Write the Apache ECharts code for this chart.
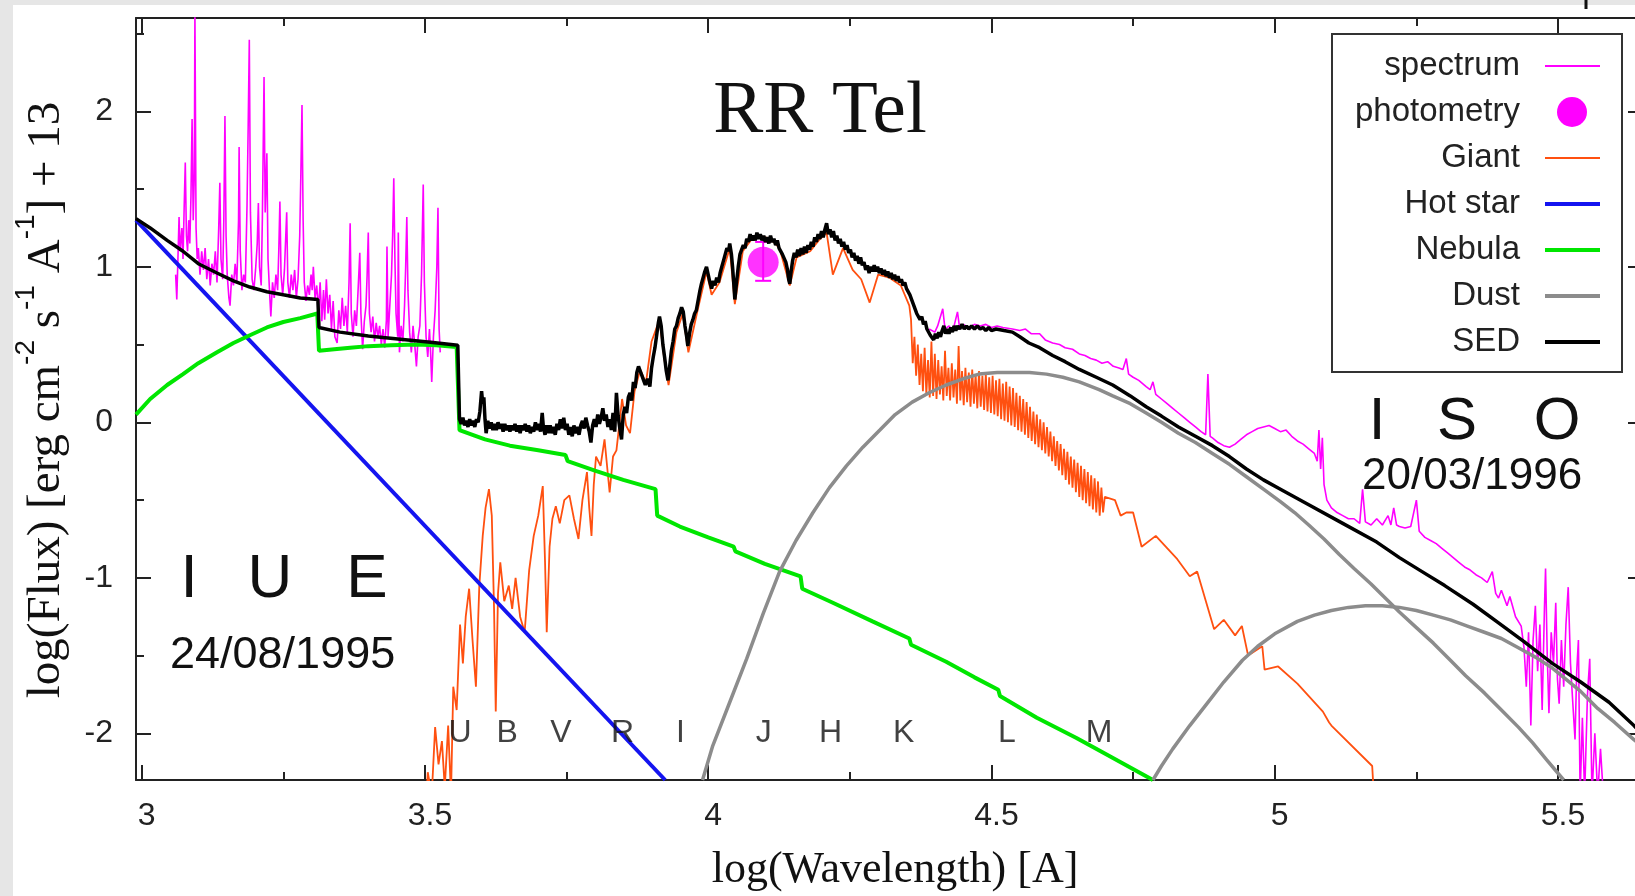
<!DOCTYPE html>
<html>
<head>
<meta charset="utf-8">
<title>RR Tel</title>
<script src="https://cdn.jsdelivr.net/npm/echarts@6.0.0/dist/echarts.min.js"></script>
<style>
  html, body { margin: 0; padding: 0; background: #fff; }
  #main { width: 1635px; height: 896px; }
</style>
</head>
<body>
<div id="main"></div>
<script>
// log(wavelength), log(flux)+13
var iueSpectrum = [
  [3.060,0.95],[3.062,0.79],[3.064,1.05],[3.066,1.32],[3.068,1.10],[3.071,1.25],[3.073,1.05],[3.075,1.38],
  [3.077,1.67],[3.079,1.20],[3.081,1.10],[3.083,1.30],[3.085,1.15],[3.087,1.45],[3.089,1.95],[3.091,1.30],
  [3.093,1.60],[3.094,2.65],[3.096,1.25],[3.098,1.05],[3.100,1.12],[3.103,0.95],[3.106,1.10],[3.109,0.98],
  [3.112,1.12],[3.115,0.92],[3.118,1.05],[3.121,0.88],[3.124,1.02],[3.127,0.95],[3.130,1.10],[3.133,0.90],
  [3.136,1.25],[3.138,1.54],[3.140,1.05],[3.143,0.92],[3.145,1.30],[3.147,1.97],[3.149,1.20],[3.151,0.95],
  [3.154,0.80],[3.156,0.75],[3.159,0.95],[3.162,0.88],[3.165,1.02],[3.168,0.90],[3.171,1.30],[3.172,1.77],
  [3.174,1.10],[3.177,0.85],[3.180,0.95],[3.183,0.90],[3.186,1.40],[3.188,1.90],[3.190,2.46],[3.192,1.35],
  [3.195,0.92],[3.198,0.85],[3.201,0.98],[3.204,1.15],[3.206,1.41],[3.208,1.00],[3.211,0.88],[3.213,1.30],
  [3.216,2.22],[3.218,1.35],[3.221,1.73],[3.223,1.05],[3.226,0.82],[3.228,0.68],[3.231,0.90],[3.234,0.80],
  [3.237,0.95],[3.240,0.85],[3.242,1.10],[3.244,1.42],[3.246,0.95],[3.249,0.82],[3.252,0.98],[3.256,1.35],
  [3.258,0.90],[3.261,0.80],[3.264,0.95],[3.267,0.85],[3.270,0.98],[3.273,0.80],[3.276,0.92],[3.279,1.20],
  [3.281,1.60],[3.283,2.04],[3.285,1.30],[3.287,0.90],[3.290,0.78],[3.293,0.88],[3.296,0.82],[3.299,0.95],
  [3.301,0.85],[3.303,1.00],[3.306,0.80],[3.309,0.88],[3.312,0.72],[3.315,0.90],[3.318,0.65],[3.321,0.85],
  [3.323,0.66],[3.326,0.92],[3.329,0.70],[3.332,0.82],[3.335,0.60],[3.338,0.78],[3.341,0.55],[3.345,0.51],
  [3.348,0.72],[3.351,0.60],[3.354,0.80],[3.357,0.62],[3.360,0.75],[3.363,0.58],[3.366,0.90],[3.368,1.28],
  [3.370,0.70],[3.373,0.55],[3.376,0.72],[3.379,0.62],[3.382,0.85],[3.385,1.09],[3.387,0.70],[3.390,0.47],
  [3.393,0.65],[3.396,0.75],[3.398,0.95],[3.400,1.22],[3.402,0.70],[3.405,0.58],[3.408,0.68],[3.411,0.52],
  [3.414,0.64],[3.417,0.55],[3.420,0.62],[3.423,0.50],[3.426,0.60],[3.429,0.48],[3.432,0.66],[3.433,1.13],
  [3.435,0.55],[3.438,0.75],[3.441,0.95],[3.443,1.20],[3.445,1.57],[3.447,1.05],[3.449,0.70],[3.452,0.55],
  [3.453,1.22],[3.455,0.45],[3.458,0.62],[3.461,0.52],[3.464,0.75],[3.466,1.00],[3.468,1.32],[3.470,0.85],
  [3.473,0.58],[3.476,0.45],[3.479,0.62],[3.482,0.50],[3.485,0.36],[3.488,0.55],[3.491,0.62],[3.494,0.95],
  [3.497,1.53],[3.499,0.90],[3.502,0.55],[3.505,0.42],[3.508,0.60],[3.510,0.45],[3.512,0.26],[3.515,0.55],
  [3.518,0.72],[3.521,1.00],[3.523,1.38],[3.525,0.60],[3.527,0.45]
];

var isoSpectrum = [
  [4.390,0.60],[4.400,0.58],[4.405,0.62],[4.414,0.73],[4.418,0.60],[4.425,0.62],[4.432,0.59],[4.440,0.71],
  [4.444,0.60],[4.450,0.63],[4.460,0.61],[4.470,0.63],[4.480,0.62],[4.490,0.63],[4.500,0.61],[4.510,0.62],
  [4.520,0.61],[4.537,0.60],[4.550,0.59],[4.560,0.60],[4.570,0.57],[4.585,0.57],[4.595,0.53],[4.608,0.51],
  [4.620,0.50],[4.630,0.48],[4.643,0.47],[4.655,0.44],[4.665,0.43],[4.675,0.41],[4.685,0.40],[4.695,0.38],
  [4.705,0.39],[4.715,0.36],[4.725,0.35],[4.732,0.34],[4.738,0.41],[4.742,0.31],[4.750,0.29],[4.760,0.27],
  [4.773,0.23],[4.780,0.21],[4.785,0.26],[4.790,0.18],[4.800,0.15],[4.810,0.12],[4.820,0.09],[4.830,0.06],
  [4.840,0.03],[4.850,0.00],[4.860,-0.03],[4.870,-0.06],[4.878,-0.08],[4.882,0.31],[4.886,-0.09],[4.890,-0.10],
  [4.900,-0.13],[4.910,-0.15],[4.920,-0.16],[4.930,-0.14],[4.940,-0.11],[4.950,-0.08],[4.960,-0.06],[4.970,-0.04],
  [4.980,-0.03],[4.990,-0.02],[5.000,-0.04],[5.010,-0.06],[5.020,-0.05],[5.030,-0.09],[5.040,-0.12],[5.050,-0.14],
  [5.060,-0.17],[5.070,-0.20],[5.075,-0.25],[5.078,-0.05],[5.081,-0.30],[5.084,-0.10],[5.087,-0.40],[5.092,-0.50],
  [5.100,-0.55],[5.110,-0.58],[5.120,-0.60],[5.130,-0.62],[5.140,-0.62],[5.150,-0.65],[5.155,-0.43],[5.160,-0.64],
  [5.170,-0.66],[5.180,-0.62],[5.190,-0.66],[5.200,-0.60],[5.205,-0.66],[5.210,-0.55],[5.215,-0.66],[5.220,-0.67],
  [5.230,-0.68],[5.240,-0.67],[5.250,-0.50],[5.255,-0.70],[5.265,-0.74],[5.275,-0.76],[5.285,-0.78],[5.295,-0.81],
  [5.305,-0.84],[5.315,-0.87],[5.325,-0.90],[5.335,-0.93],[5.345,-0.95],[5.355,-0.98],[5.365,-1.00],[5.375,-1.03],
  [5.384,-0.96],[5.390,-1.10],[5.395,-1.13],[5.400,-1.08],[5.410,-1.18],[5.415,-1.12],[5.425,-1.25],[5.435,-1.31],
  [5.440,-1.45],[5.444,-1.70],[5.448,-1.35],[5.452,-1.95],[5.456,-1.40],[5.460,-1.18],[5.464,-1.60],[5.468,-1.30],
  [5.472,-1.85],[5.476,-1.20],[5.478,-0.94],[5.481,-1.50],[5.484,-1.87],[5.488,-1.35],[5.492,-1.55],[5.496,-1.16],
  [5.499,-1.65],[5.502,-1.81],[5.506,-1.40],[5.510,-1.70],[5.514,-1.30],[5.518,-1.06],[5.522,-1.55],[5.526,-1.80],
  [5.530,-2.04],[5.533,-1.60],[5.536,-1.40],[5.539,-2.40],[5.543,-1.90],[5.547,-2.40],[5.552,-1.75],[5.556,-1.52],
  [5.560,-2.40],[5.565,-2.00],[5.570,-2.40],[5.575,-2.10],[5.580,-2.40]
];

var photometry = [[4.097, 1.03]];
var photometryErr = [[4.097, 0.91, 1.16]];

var giant = [
  [3.500,-2.60],[3.505,-2.25],[3.512,-2.40],[3.518,-1.96],[3.524,-2.20],[3.530,-2.05],[3.535,-2.35],[3.541,-1.95],
  [3.546,-2.40],[3.550,-1.70],[3.556,-1.85],[3.562,-1.30],[3.567,-1.55],[3.572,-1.25],[3.578,-1.07],[3.584,-1.40],
  [3.590,-1.70],[3.596,-1.05],[3.602,-0.73],[3.607,-0.55],[3.613,-0.43],[3.618,-0.60],[3.622,-1.20],[3.625,-1.86],
  [3.629,-1.10],[3.633,-0.90],[3.640,-1.15],[3.648,-1.05],[3.654,-1.20],[3.660,-1.00],[3.668,-1.25],[3.676,-1.35],
  [3.684,-0.95],[3.692,-0.73],[3.700,-0.60],[3.708,-0.41],[3.712,-0.90],[3.715,-1.35],[3.720,-0.80],[3.725,-0.62],
  [3.731,-0.54],[3.738,-0.65],[3.746,-0.50],[3.755,-0.47],[3.763,-0.62],[3.771,-0.75],[3.778,-0.50],[3.786,-0.32],
  [3.790,-0.55],[3.794,-0.73],[3.798,-0.40],[3.802,-0.22],[3.810,-0.28],[3.817,-0.11],[3.822,-0.30],[3.826,-0.45],
  [3.832,-0.22],[3.838,-0.18],[3.842,-0.05],[3.848,0.15],[3.855,-0.02],[3.862,-0.07],[3.870,0.20],[3.880,0.34],
  [3.890,0.25],[3.900,0.52],[3.914,0.66],[3.922,0.42],[3.930,0.24],[3.944,0.58],[3.955,0.70],[3.965,0.45],
  [3.980,0.70],[3.997,0.97],[4.006,0.82],[4.020,0.90],[4.038,1.12],[4.047,0.76],[4.061,1.10],[4.075,1.17],
  [4.090,1.20],[4.110,1.18],[4.126,1.12],[4.144,0.88],[4.156,1.06],[4.180,1.10],[4.195,1.17],[4.209,1.22],
  [4.220,0.95],[4.238,1.12],[4.255,0.98],[4.270,0.92],[4.285,0.77],[4.300,0.95],[4.320,0.93],[4.340,0.88],
  [4.355,0.75],[4.358,0.66],[4.361,0.38],[4.364,0.55],[4.367,0.30],[4.370,0.50],[4.373,0.24],[4.376,0.44],
  [4.379,0.20],[4.382,0.48],[4.385,0.18],[4.388,0.40],[4.391,0.16],[4.394,0.52],[4.397,0.17],[4.400,0.44],
  [4.403,0.15],[4.406,0.40],[4.409,0.18],[4.412,0.36],[4.415,0.14],[4.418,0.46],[4.421,0.17],[4.424,0.35],
  [4.427,0.14],[4.430,0.38],[4.433,0.16],[4.436,0.34],[4.439,0.12],[4.442,0.49],[4.445,0.14],[4.448,0.33],
  [4.451,0.11],[4.454,0.35],[4.457,0.13],[4.460,0.32],[4.463,0.10],[4.466,0.34],[4.469,0.12],[4.472,0.31],
  [4.475,0.09],[4.478,0.33],[4.481,0.10],[4.484,0.30],[4.487,0.08],[4.490,0.31],[4.493,0.07],[4.496,0.29],
  [4.499,0.06],[4.502,0.30],[4.505,0.05],[4.508,0.27],[4.511,0.04],[4.514,0.28],[4.517,0.02],[4.520,0.25],
  [4.523,0.01],[4.526,0.26],[4.529,0.00],[4.532,0.23],[4.535,-0.02],[4.538,0.22],[4.541,-0.03],[4.544,0.19],
  [4.547,-0.05],[4.550,0.17],[4.553,-0.06],[4.556,0.15],[4.559,-0.08],[4.562,0.13],[4.565,-0.10],[4.568,0.10],
  [4.571,-0.12],[4.574,0.07],[4.577,-0.14],[4.580,0.05],[4.583,-0.16],[4.586,0.02],[4.589,-0.18],[4.592,0.00],
  [4.595,-0.20],[4.598,-0.03],[4.601,-0.22],[4.604,-0.06],[4.607,-0.25],[4.610,-0.09],[4.613,-0.28],[4.616,-0.12],
  [4.619,-0.31],[4.622,-0.14],[4.625,-0.34],[4.628,-0.17],[4.631,-0.37],[4.634,-0.19],[4.637,-0.40],[4.640,-0.22],
  [4.643,-0.42],[4.646,-0.24],[4.649,-0.45],[4.652,-0.26],[4.655,-0.48],[4.658,-0.28],[4.661,-0.50],[4.664,-0.30],
  [4.667,-0.52],[4.670,-0.32],[4.673,-0.54],[4.676,-0.34],[4.679,-0.56],[4.682,-0.36],[4.685,-0.58],[4.688,-0.38],
  [4.691,-0.60],[4.694,-0.42],[4.697,-0.58],[4.700,-0.48],[4.718,-0.50],[4.728,-0.60],[4.738,-0.58],[4.750,-0.58],
  [4.765,-0.80],[4.790,-0.73],[4.828,-0.88],[4.850,-0.99],[4.863,-0.96],[4.893,-1.33],[4.910,-1.27],[4.930,-1.37],
  [4.942,-1.31],[4.953,-1.50],[4.978,-1.44],[4.982,-1.59],[5.006,-1.57],[5.040,-1.68],[5.085,-1.86],[5.096,-1.93],
  [5.100,-1.95],[5.172,-2.21],[5.175,-2.40]
];

var hotStar = [[2.99,1.30],[3.924,-2.30]];

var nebula = [
  [2.990,0.05],[3.015,0.15],[3.045,0.24],[3.073,0.31],[3.100,0.38],[3.133,0.45],[3.162,0.51],[3.191,0.56],
  [3.221,0.61],[3.250,0.645],[3.280,0.67],[3.310,0.70],[3.313,0.46],[3.340,0.47],[3.368,0.48],[3.400,0.49],
  [3.440,0.495],[3.485,0.50],[3.520,0.495],[3.556,0.485],[3.561,-0.05],[3.606,-0.11],[3.650,-0.15],[3.700,-0.18],
  [3.748,-0.21],[3.752,-0.25],[3.800,-0.31],[3.850,-0.37],[3.907,-0.43],[3.910,-0.60],[3.950,-0.67],[4.000,-0.74],
  [4.045,-0.80],[4.048,-0.83],[4.100,-0.91],[4.163,-0.99],[4.166,-1.07],[4.220,-1.16],[4.290,-1.28],[4.355,-1.39],
  [4.358,-1.43],[4.420,-1.54],[4.470,-1.64],[4.512,-1.72],[4.515,-1.76],[4.580,-1.90],[4.650,-2.03],[4.700,-2.13],
  [4.785,-2.30]
];

var dustWarm = [
  [3.990,-2.30],[4.008,-2.08],[4.038,-1.80],[4.068,-1.52],[4.097,-1.23],[4.126,-0.96],[4.155,-0.76],[4.185,-0.58],
  [4.214,-0.42],[4.244,-0.28],[4.273,-0.16],[4.303,-0.05],[4.330,0.05],[4.360,0.13],[4.390,0.19],[4.420,0.24],
  [4.450,0.28],[4.478,0.31],[4.510,0.32],[4.537,0.32],[4.567,0.32],[4.597,0.31],[4.626,0.29],[4.655,0.26],
  [4.690,0.21],[4.714,0.17],[4.745,0.12],[4.773,0.06],[4.800,0.00],[4.830,-0.07],[4.860,-0.13],[4.890,-0.20],
  [4.920,-0.27],[4.950,-0.35],[4.980,-0.43],[5.010,-0.51],[5.035,-0.58],[5.060,-0.66],[5.087,-0.75],[5.114,-0.85],
  [5.140,-0.94],[5.170,-1.04],[5.195,-1.13],[5.220,-1.22],[5.250,-1.32],[5.280,-1.42],[5.310,-1.53],[5.337,-1.63],
  [5.370,-1.74],[5.400,-1.85],[5.430,-1.96],[5.455,-2.06],[5.480,-2.17],[5.510,-2.30]
];

var dustCool = [
  [4.785,-2.30],[4.800,-2.21],[4.820,-2.10],[4.850,-1.95],[4.880,-1.81],[4.910,-1.67],[4.943,-1.53],[4.970,-1.44],
  [5.000,-1.36],[5.040,-1.28],[5.070,-1.24],[5.100,-1.21],[5.130,-1.19],[5.160,-1.18],[5.190,-1.18],[5.220,-1.19],
  [5.250,-1.21],[5.280,-1.24],[5.310,-1.27],[5.340,-1.31],[5.370,-1.35],[5.400,-1.39],[5.430,-1.45],[5.460,-1.51],
  [5.490,-1.58],[5.510,-1.64],[5.540,-1.73],[5.570,-1.84],[5.600,-1.93],[5.634,-2.04],[5.650,-2.09]
];

var sed = [
  [2.990,1.31],[3.015,1.25],[3.045,1.17],[3.073,1.10],[3.100,1.02],[3.133,0.96],[3.162,0.91],[3.191,0.87],
  [3.221,0.84],[3.250,0.82],[3.280,0.80],[3.311,0.79],[3.313,0.61],[3.350,0.58],[3.400,0.555],[3.426,0.545],
  [3.470,0.53],[3.510,0.515],[3.558,0.495],
  [3.561,0.02],[3.564,-0.01],[3.567,0.03],[3.570,-0.02],[3.573,0.01],[3.576,-0.03],[3.579,0.02],[3.582,-0.02],
  [3.585,0.01],[3.588,-0.03],[3.591,0.02],[3.594,0.00],[3.597,0.07],[3.600,0.20],[3.602,0.12],[3.604,0.16],
  [3.606,0.02],[3.608,-0.07],[3.611,0.01],[3.614,-0.04],[3.617,0.00],[3.620,-0.05],[3.623,-0.01],[3.626,-0.05],
  [3.629,0.00],[3.632,-0.04],[3.635,-0.01],[3.638,-0.06],[3.641,-0.01],[3.644,-0.05],[3.647,-0.02],[3.650,-0.06],
  [3.653,-0.02],[3.656,-0.05],[3.659,-0.01],[3.662,-0.06],[3.665,-0.02],[3.668,-0.07],[3.671,-0.02],[3.674,-0.05],
  [3.677,-0.01],[3.680,-0.06],[3.683,-0.02],[3.686,-0.07],[3.689,-0.03],[3.692,-0.06],[3.695,0.00],[3.698,-0.05],
  [3.701,-0.01],[3.704,-0.06],[3.707,0.06],[3.709,-0.03],[3.712,-0.08],[3.715,-0.02],[3.718,-0.07],[3.721,-0.02],
  [3.724,-0.07],[3.727,-0.03],[3.730,-0.08],[3.733,-0.01],[3.736,-0.05],[3.739,0.02],[3.742,-0.04],[3.745,0.03],
  [3.748,-0.05],[3.751,-0.01],[3.754,-0.08],[3.757,-0.03],[3.760,-0.09],[3.763,-0.02],[3.766,-0.07],[3.769,-0.03],
  [3.772,-0.08],[3.775,-0.02],[3.778,0.01],[3.781,-0.04],[3.784,0.03],[3.787,-0.02],[3.790,-0.06],[3.793,-0.13],
  [3.796,-0.02],[3.799,0.02],[3.802,-0.03],[3.805,0.05],[3.808,-0.01],[3.811,0.03],[3.814,0.09],[3.817,0.01],
  [3.820,0.05],[3.823,-0.03],[3.826,0.02],[3.829,-0.05],[3.832,0.06],[3.835,-0.06],[3.838,0.19],[3.841,0.04],
  [3.844,-0.04],[3.847,-0.11],[3.850,0.05],[3.853,0.10],[3.856,0.06],[3.859,0.16],[3.862,0.19],[3.865,0.14],
  [3.868,0.26],[3.871,0.22],[3.874,0.32],[3.877,0.36],[3.880,0.33],[3.883,0.30],[3.886,0.27],[3.889,0.24],
  [3.893,0.28],[3.897,0.23],[3.900,0.35],[3.903,0.42],[3.906,0.48],[3.909,0.56],[3.912,0.64],[3.914,0.68],
  [3.917,0.62],[3.920,0.50],[3.923,0.42],[3.926,0.33],[3.929,0.27],[3.932,0.36],[3.935,0.46],[3.938,0.52],
  [3.941,0.60],[3.944,0.62],[3.947,0.67],[3.950,0.70],[3.953,0.74],[3.956,0.71],[3.959,0.62],[3.962,0.55],
  [3.964,0.49],[3.967,0.57],[3.970,0.63],[3.973,0.66],[3.976,0.70],[3.979,0.72],[3.982,0.78],[3.985,0.84],
  [3.988,0.89],[3.991,0.93],[3.994,0.97],[3.997,1.00],[4.000,0.95],[4.003,0.90],[4.006,0.86],[4.009,0.91],
  [4.012,0.88],[4.015,0.93],[4.018,0.90],[4.021,0.96],[4.024,1.00],[4.027,1.04],[4.030,1.08],[4.033,1.12],
  [4.036,1.10],[4.038,1.15],[4.041,1.08],[4.043,1.00],[4.045,0.90],[4.047,0.79],[4.050,0.90],[4.053,1.00],
  [4.056,1.08],[4.059,1.11],[4.062,1.14],[4.065,1.12],[4.068,1.18],[4.071,1.16],[4.074,1.21],[4.077,1.17],
  [4.080,1.20],[4.083,1.17],[4.086,1.22],[4.089,1.18],[4.092,1.21],[4.095,1.17],[4.098,1.20],[4.101,1.16],
  [4.104,1.19],[4.107,1.15],[4.110,1.20],[4.113,1.16],[4.116,1.18],[4.119,1.14],[4.122,1.17],[4.125,1.12],
  [4.128,1.13],[4.131,1.08],[4.134,1.09],[4.137,1.03],[4.140,0.98],[4.142,0.92],[4.144,0.89],[4.146,0.96],
  [4.149,1.04],[4.152,1.09],[4.155,1.06],[4.158,1.11],[4.161,1.07],[4.164,1.12],[4.167,1.08],[4.170,1.13],
  [4.173,1.09],[4.176,1.14],[4.179,1.11],[4.182,1.16],[4.185,1.13],[4.188,1.19],[4.191,1.16],[4.194,1.21],
  [4.197,1.18],[4.200,1.23],[4.203,1.19],[4.206,1.24],[4.209,1.28],[4.212,1.21],[4.215,1.24],[4.218,1.19],
  [4.221,1.23],[4.224,1.17],[4.227,1.20],[4.230,1.15],[4.233,1.18],[4.236,1.13],[4.239,1.16],[4.242,1.11],
  [4.245,1.14],[4.248,1.09],[4.251,1.11],[4.254,1.06],[4.257,1.09],[4.260,1.04],[4.263,1.07],[4.266,1.02],
  [4.269,1.06],[4.272,1.01],[4.275,1.03],[4.278,0.98],[4.281,1.01],[4.284,0.96],[4.287,1.00],[4.290,0.97],
  [4.293,1.01],[4.296,0.97],[4.299,1.00],[4.302,0.96],[4.305,0.99],[4.308,0.95],[4.311,0.98],[4.314,0.94],
  [4.317,0.97],[4.320,0.93],[4.323,0.96],[4.326,0.92],[4.329,0.95],[4.332,0.91],[4.335,0.94],[4.338,0.90],
  [4.341,0.92],[4.344,0.88],[4.347,0.90],[4.350,0.86],[4.353,0.87],[4.356,0.82],[4.359,0.82],[4.362,0.76],
  [4.365,0.76],[4.368,0.70],[4.371,0.71],[4.374,0.66],[4.377,0.68],[4.380,0.63],[4.383,0.65],[4.386,0.60],
  [4.389,0.61],[4.392,0.56],[4.395,0.57],[4.398,0.53],[4.401,0.57],[4.404,0.54],[4.407,0.58],[4.410,0.55],
  [4.413,0.59],[4.416,0.62],[4.419,0.57],[4.422,0.60],[4.425,0.57],[4.428,0.61],[4.431,0.58],[4.434,0.62],
  [4.437,0.59],[4.440,0.62],[4.444,0.60],[4.448,0.63],[4.452,0.60],[4.456,0.62],[4.460,0.60],[4.465,0.62],
  [4.470,0.60],[4.475,0.62],[4.480,0.60],[4.485,0.61],[4.490,0.59],[4.495,0.61],[4.500,0.59],[4.508,0.60],
  [4.522,0.59],[4.537,0.58],[4.550,0.55],[4.566,0.51],[4.585,0.48],[4.608,0.43],[4.630,0.39],[4.655,0.34],
  [4.685,0.29],[4.714,0.24],[4.745,0.17],[4.773,0.10],[4.800,0.04],[4.830,-0.03],[4.860,-0.09],[4.890,-0.15],
  [4.920,-0.22],[4.950,-0.30],[4.980,-0.37],[5.010,-0.43],[5.060,-0.53],[5.120,-0.65],[5.180,-0.77],[5.220,-0.87],
  [5.260,-0.96],[5.300,-1.05],[5.350,-1.17],[5.395,-1.29],[5.440,-1.41],[5.490,-1.55],[5.540,-1.67],[5.590,-1.80],
  [5.634,-1.95],[5.650,-2.01]
];

var bandNames = ['U', 'B', 'V', 'R', 'I', 'J', 'H', 'K', 'L', 'M'];
var bandX = [3.562, 3.645, 3.740, 3.849, 3.951, 4.098, 4.216, 4.345, 4.527, 4.690];
var bandY = -2.0;

var SANS = '"Liberation Sans", Arial, sans-serif';
var SERIF = '"Liberation Serif", "Times New Roman", serif';
var MAGENTA = '#ff00ff', ORANGE = '#ff5010', BLUE = '#1414f0', GREEN = '#00e600', GREY = '#8c8c8c', BLACK = '#000';

function line(name, data, color, width) {
  return {
    name: name, type: 'line', data: data, symbol: 'none', showSymbol: false,
    lineStyle: { color: color, width: width }, itemStyle: { color: color },
    clip: true, silent: true
  };
}

function axisCommon(show) {
  return {
    type: 'value',
    splitLine: { show: false },
    axisLine: { show: true, onZero: false, lineStyle: { color: '#222', width: 2 } },
    axisTick: { show: true, inside: true, length: 15, lineStyle: { color: '#222', width: 2 } },
    minorTick: { show: true, splitNumber: 2, length: 8, lineStyle: { color: '#222', width: 2 } },
    axisLabel: { show: show, fontFamily: SANS, fontSize: 32, color: '#222', showMinLabel: false, showMaxLabel: false }
  };
}

var xBottom = Object.assign(axisCommon(true), { min: 2.99, max: 5.65, splitNumber: 5, position: 'bottom' });
xBottom.axisLabel.margin = 20;
xBottom.axisLabel.padding = [0, 0, 0, 10];
var xTop = Object.assign(axisCommon(false), { min: 2.99, max: 5.65, splitNumber: 5, position: 'top' });
var yLeft = Object.assign(axisCommon(true), { min: -2.3, max: 2.6, splitNumber: 5, position: 'left' });
yLeft.axisLabel.margin = 23;
var yRight = Object.assign(axisCommon(false), { min: -2.3, max: 2.6, splitNumber: 5, position: 'right' });

// legend drawn by hand: right-aligned names, samples on the right
var legendRows = [
  { name: 'spectrum', color: MAGENTA, width: 2 },
  { name: 'photometry', color: MAGENTA, dot: true },
  { name: 'Giant', color: ORANGE, width: 2 },
  { name: 'Hot star', color: BLUE, width: 4 },
  { name: 'Nebula', color: GREEN, width: 4 },
  { name: 'Dust', color: GREY, width: 4 },
  { name: 'SED', color: BLACK, width: 4 }
];
var legendGraphic = [{
  type: 'rect', shape: { x: 1332, y: 34, width: 290, height: 338 },
  style: { fill: '#fff', stroke: '#333', lineWidth: 2 }
}];
legendRows.forEach(function (r, i) {
  var cy = 66 + i * 46;
  legendGraphic.push({
    type: 'text', x: 1520, y: cy,
    style: { text: r.name, font: '33px ' + SANS, fill: '#222', align: 'right', verticalAlign: 'middle' }
  });
  if (r.dot) {
    legendGraphic.push({ type: 'circle', shape: { cx: 1572, cy: cy, r: 15 }, style: { fill: r.color } });
  } else {
    legendGraphic.push({
      type: 'line', shape: { x1: 1545, y1: cy, x2: 1600, y2: cy },
      style: { stroke: r.color, lineWidth: r.width }
    });
  }
});

function txt(x, y, text, font, align) {
  return { type: 'text', x: x, y: y, style: { text: text, font: font, fill: '#111', align: align || 'center', verticalAlign: 'middle' } };
}

var notes = [
  { type: 'rect', shape: { x: 0, y: 0, width: 1635, height: 5 }, style: { fill: '#e6e6e6' } },
  { type: 'rect', shape: { x: 0, y: 0, width: 13, height: 896 }, style: { fill: '#e6e6e6' } },
  { type: 'line', shape: { x1: 1586, y1: 0, x2: 1586, y2: 9 }, style: { stroke: '#111', lineWidth: 3 } },
  txt(820, 112, 'RR Tel', '75px ' + SERIF),
  txt(189, 580, 'I', '62px ' + SANS),
  txt(270, 580, 'U', '62px ' + SANS),
  txt(367, 580, 'E', '62px ' + SANS),
  txt(170, 656, '24/08/1995', '45px ' + SANS, 'left'),
  txt(1377, 422, 'I', '60px ' + SANS),
  txt(1457, 422, 'S', '60px ' + SANS),
  txt(1557, 422, 'O', '60px ' + SANS),
  txt(1362, 477, '20/03/1996', '44px ' + SANS, 'left'),
  txt(895, 870, 'log(Wavelength) [A]', '44px ' + SERIF),
  {
    type: 'text', x: 41, y: 400, rotation: Math.PI / 2,
    style: {
      text: '{n|log(Flux) [erg cm}{s|-2}{n| s}{s|-1}{n| A}{s|-1}{n|] + 13}',
      align: 'center', verticalAlign: 'middle',
      rich: {
        n: { fontFamily: SERIF, fontSize: 47, fill: '#111', lineHeight: 58, verticalAlign: 'bottom' },
        s: { fontFamily: SANS, fontSize: 28, fill: '#111', lineHeight: 58, verticalAlign: 'top' }
      }
    }
  }
];

var chart = echarts.init(document.getElementById('main'), null, { renderer: 'canvas' });
chart.setOption({
  animation: false,
  backgroundColor: '#fff',
  grid: { left: 136, top: 18, right: -8, bottom: 116, outerBoundsMode: 'none', containLabel: false },
  xAxis: [xBottom, xTop],
  yAxis: [yLeft, yRight],
  legend: { show: false },
  series: [
    line('spectrum', iueSpectrum, MAGENTA, 1.6),
    line('spectrum', isoSpectrum, MAGENTA, 1.6),
    {
      name: 'photometry', type: 'custom', data: photometryErr, encode: { x: 0, y: [1, 2] }, silent: true,
      renderItem: function (params, api) {
        var x = api.value(0);
        var lo = api.coord([x, api.value(1)]);
        var hi = api.coord([x, api.value(2)]);
        var st = { stroke: MAGENTA, lineWidth: 2 };
        return { type: 'group', children: [
          { type: 'line', shape: { x1: lo[0], y1: lo[1], x2: hi[0], y2: hi[1] }, style: st },
          { type: 'line', shape: { x1: lo[0] - 8, y1: lo[1], x2: lo[0] + 8, y2: lo[1] }, style: st },
          { type: 'line', shape: { x1: hi[0] - 8, y1: hi[1], x2: hi[0] + 8, y2: hi[1] }, style: st }
        ] };
      }
    },
    { name: 'photometry', type: 'scatter', data: photometry, symbolSize: 31, itemStyle: { color: MAGENTA }, silent: true },
    line('Giant', giant, ORANGE, 1.8),
    line('Hot star', hotStar, BLUE, 4),
    line('Nebula', nebula, GREEN, 4),
    line('Dust', dustWarm, GREY, 3.5),
    line('Dust', dustCool, GREY, 3.5),
    line('SED', sed, BLACK, 3.5),
    {
      name: 'bands', type: 'scatter', silent: true, symbolSize: 1,
      itemStyle: { color: 'rgba(0,0,0,0)' },
      data: bandNames.map(function (n, i) { return { name: n, value: [bandX[i], bandY] }; }),
      label: { show: true, position: 'inside', formatter: '{b}', fontFamily: SANS, fontSize: 32, color: '#111' },
      z: 5
    }
  ],
  graphic: { elements: notes.concat(legendGraphic) }
});
</script>
</body>
</html>
